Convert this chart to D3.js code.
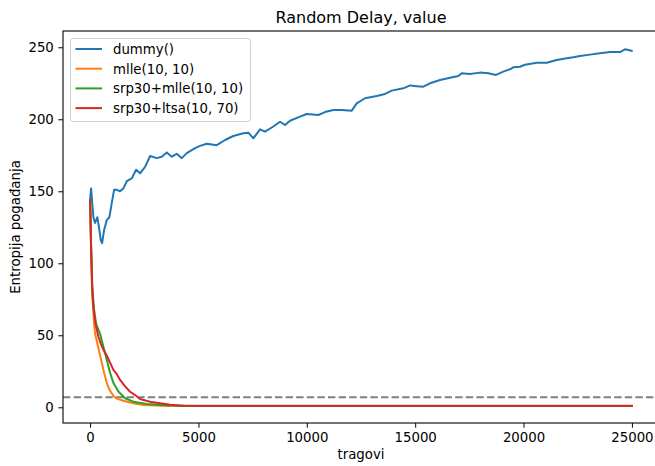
<!DOCTYPE html>
<html>
<head>
<meta charset="utf-8">
<script src="https://cdn.jsdelivr.net/npm/d3@7"></script>
<style>
  body { margin: 0; background: #fff; }
  text { font-family: "DejaVu Sans", sans-serif; }
</style>
</head>
<body>
<div id="chart-container"></div>
<script>
// values
const title = "Random Delay, value";
const xLabel = "tragovi";
const yLabel = "Entropija pogađanja";
const xTicks = [0, 5000, 10000, 15000, 20000, 25000];
const yTicks = [0, 50, 100, 150, 200, 250];
const threshold = 7;

const seriesNames = ["dummy()", "mlle(10, 10)", "srp30+mlle(10, 10)", "srp30+ltsa(10, 70)"];
const seriesColors = ["#1f77b4", "#ff7f0e", "#2ca02c", "#d62728"];

// [traces, entropy]
const dummyPts = [
  [0, 144], [46, 152], [152, 132], [231, 128], [337, 132], [429, 123], [494, 116],
  [554, 114], [646, 123], [770, 130], [890, 132], [1001, 142], [1107, 151], [1232, 151],
  [1384, 150], [1536, 152], [1693, 157], [1924, 159], [2122, 165], [2306, 162.5],
  [2537, 167], [2768, 174.5], [3077, 173], [3307, 174], [3538, 177], [3769, 174],
  [4000, 176], [4230, 173], [4461, 176.5], [4844, 180], [5074, 181.5], [5383, 183],
  [5845, 182], [6228, 185.6], [6610, 188.4], [7072, 190.3], [7302, 190.7], [7533, 186.8],
  [7842, 193], [8073, 191.4], [8456, 195], [8765, 198.3], [8995, 196], [9226, 199],
  [9687, 201.8], [9996, 203.7], [10531, 203], [10840, 205], [11223, 206.5], [11611, 206.5],
  [12072, 206], [12303, 211], [12686, 214.6], [13225, 216.2], [13608, 217.6], [13917, 219.9],
  [14453, 221.5], [14762, 223.5], [15071, 223], [15375, 222.6], [15684, 225], [16146, 227.3],
  [16607, 228.9], [16990, 230.1], [17147, 231.9], [17530, 231.5], [17991, 232.4],
  [18374, 231.9], [18729, 230.8], [19066, 233.1], [19375, 234.7], [19527, 236.1],
  [19836, 236.5], [20067, 237.9], [20606, 239.3], [21068, 239.3], [21529, 241.2],
  [21990, 242.3], [22295, 243], [22604, 243.9], [23065, 244.9], [23526, 245.8],
  [23987, 246.7], [24449, 246.7], [24680, 248.6], [24989, 247.6]
];
const mllePts = [
  [0, 144], [46, 110], [92, 80], [185, 58], [231, 51], [309, 46], [429, 38], [540, 31],
  [646, 24], [770, 17], [900, 12], [1075, 8], [1232, 6], [1536, 4.5], [1997, 2.8],
  [2459, 1.6], [3538, 0.9], [25000, 0.9]
];
const srpMllePts = [
  [0, 144], [46, 112], [92, 85], [185, 68], [277, 58], [461, 51], [614, 42], [770, 33],
  [923, 24], [1075, 17], [1306, 11], [1615, 6.3], [1997, 3.9], [2616, 2.3], [3538, 1.4],
  [4461, 0.9], [25000, 0.9]
];
const srpLtsaPts = [
  [0, 144], [46, 112], [92, 88], [125, 75], [185, 65], [277, 56], [383, 49], [494, 44],
  [614, 40], [770, 36], [923, 31], [1075, 26], [1232, 23], [1384, 19], [1615, 14.5],
  [1845, 10.8], [2076, 8.5], [2306, 5.8], [2768, 3.9], [3229, 2.8], [3690, 1.7],
  [4304, 1.0], [25000, 1.0]
];
const allSeries = [dummyPts, mllePts, srpMllePts, srpLtsaPts];

// layout
const W = 655, H = 466;
const margin = { top: 31, left: 63 };
const plotW = 596, plotH = 392;

const xScale = d3.scaleLinear().domain([-1250, 26250]).range([0, plotW]);
const yScale = d3.scaleLinear().domain([-10.9, 261.3]).range([plotH, 0]);

const svg = d3.select("#chart-container")
  .append("svg")
  .attr("width", W)
  .attr("height", H);

const g = svg.append("g")
  .attr("transform", `translate(${margin.left}, ${margin.top})`);

g.append("defs").append("clipPath").attr("id", "clip")
  .append("rect").attr("width", plotW).attr("height", plotH);

// threshold dashed line
g.append("line")
  .attr("x1", 0).attr("x2", plotW)
  .attr("y1", yScale(threshold)).attr("y2", yScale(threshold))
  .attr("stroke", "#808080")
  .attr("stroke-width", 2)
  .attr("stroke-dasharray", "7.4,3.2");

// series lines
const line = d3.line()
  .x((d) => xScale(d[0]))
  .y((d) => yScale(d[1]));

const lines = g.append("g").attr("clip-path", "url(#clip)");
allSeries.forEach((pts, i) => {
  lines.append("path")
    .datum(pts)
    .attr("fill", "none")
    .attr("stroke", seriesColors[i])
    .attr("stroke-width", 2)
    .attr("stroke-linejoin", "round")
    .attr("stroke-linecap", "square")
    .attr("d", line);
});

// axes
const xAxis = d3.axisBottom(xScale).tickValues(xTicks).tickFormat(d3.format("d"))
  .tickSizeOuter(0).tickSize(4.7).tickPadding(4.5);
const yAxis = d3.axisLeft(yScale).tickValues(yTicks).tickFormat(d3.format("d"))
  .tickSizeOuter(0).tickSize(4.7).tickPadding(4.5);

g.append("g")
  .attr("transform", `translate(0, ${plotH})`)
  .call(xAxis)
  .call((a) => a.select(".domain").remove())
  .selectAll("text")
  .style("font-size", "13.3px")
  .attr("fill", "#000");

g.append("g")
  .call(yAxis)
  .call((a) => a.select(".domain").remove())
  .selectAll("text")
  .style("font-size", "13.3px")
  .attr("fill", "#000");

g.selectAll(".tick line").attr("stroke", "#000").attr("stroke-width", 1);

// frame
g.append("rect")
  .attr("width", plotW)
  .attr("height", plotH)
  .attr("fill", "none")
  .attr("stroke", "#000")
  .attr("stroke-width", 1.1);

// title and labels
svg.append("text")
  .attr("x", margin.left + plotW / 2)
  .attr("y", 23)
  .attr("text-anchor", "middle")
  .style("font-size", "16px")
  .text(title);

svg.append("text")
  .attr("x", margin.left + plotW / 2)
  .attr("y", 459)
  .attr("text-anchor", "middle")
  .style("font-size", "13.3px")
  .text(xLabel);

svg.append("text")
  .attr("transform", `translate(20, ${margin.top + plotH / 2}) rotate(-90)`)
  .attr("text-anchor", "middle")
  .style("font-size", "13.3px")
  .text(yLabel);

// legend
const legend = svg.append("g").attr("transform", "translate(70, 38)");
legend.append("rect")
  .attr("x", 0.5).attr("y", 0.5)
  .attr("width", 180).attr("height", 83)
  .attr("rx", 3)
  .attr("fill", "#fff")
  .attr("fill-opacity", 0.8)
  .attr("stroke", "#d0d0d0");

seriesNames.forEach((name, i) => {
  const y = 11 + i * 19.7;
  legend.append("line")
    .attr("x1", 5.5).attr("x2", 32)
    .attr("y1", y).attr("y2", y)
    .attr("stroke", seriesColors[i])
    .attr("stroke-width", 2);
  legend.append("text")
    .attr("x", 43)
    .attr("y", y + 4.8)
    .style("font-size", "13.3px")
    .text(name);
});
</script>
</body>
</html>
